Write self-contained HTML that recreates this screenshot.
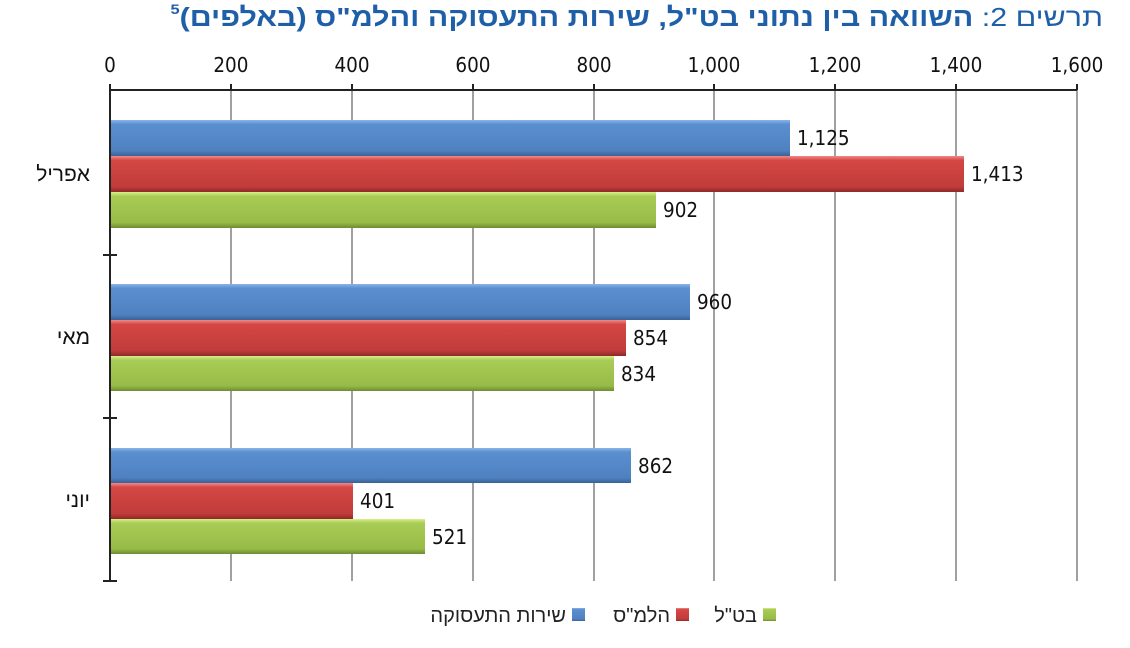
<!DOCTYPE html>
<html><head><meta charset="utf-8"><style>
body{margin:0;background:#fff;width:1130px;height:648px;overflow:hidden;position:relative}
#t{position:absolute;right:27px;top:0;direction:rtl;white-space:nowrap;font-family:'Liberation Sans','Noto Sans CJK JP',sans-serif;font-size:26px;color:#1f5fa8;line-height:34px;transform:scaleX(1.17);transform-origin:right top}
#t b{font-weight:bold}
#t sup{font-size:14px;vertical-align:top;line-height:14px;position:relative;top:2px;font-weight:bold}
svg{position:absolute;left:0;top:0}
</style></head><body>
<svg width="1130" height="648" xmlns="http://www.w3.org/2000/svg" font-family="'Liberation Sans','DejaVu Sans',sans-serif">
<defs>
<linearGradient id="b" x1="0" y1="0" x2="0" y2="1"><stop offset="0" stop-color="#8db4e8"/><stop offset="0.12" stop-color="#5a8fd0"/><stop offset="0.85" stop-color="#4f81c0"/><stop offset="1" stop-color="#3a6296"/></linearGradient>
<linearGradient id="r" x1="0" y1="0" x2="0" y2="1"><stop offset="0" stop-color="#f08a88"/><stop offset="0.12" stop-color="#d44744"/><stop offset="0.85" stop-color="#c03c3a"/><stop offset="1" stop-color="#8e2a28"/></linearGradient>
<linearGradient id="g" x1="0" y1="0" x2="0" y2="1"><stop offset="0" stop-color="#d6f08a"/><stop offset="0.12" stop-color="#a8cc55"/><stop offset="0.85" stop-color="#98bb48"/><stop offset="1" stop-color="#6f8c30"/></linearGradient>
</defs>
<g stroke="#a0a0a0" stroke-width="2">
<line x1="231" y1="90" x2="231" y2="581"/><line x1="352" y1="90" x2="352" y2="581"/><line x1="473" y1="90" x2="473" y2="581"/><line x1="594" y1="90" x2="594" y2="581"/><line x1="714" y1="90" x2="714" y2="581"/><line x1="835" y1="90" x2="835" y2="581"/><line x1="956" y1="90" x2="956" y2="581"/><line x1="1077" y1="90" x2="1077" y2="581"/>
</g>
<g stroke="#222" stroke-width="2">
<line x1="110" y1="90" x2="1077" y2="90"/>
<line x1="110" y1="84" x2="110" y2="582"/>
<line x1="231" y1="84" x2="231" y2="90"/><line x1="352" y1="84" x2="352" y2="90"/><line x1="473" y1="84" x2="473" y2="90"/><line x1="594" y1="84" x2="594" y2="90"/><line x1="714" y1="84" x2="714" y2="90"/><line x1="835" y1="84" x2="835" y2="90"/><line x1="956" y1="84" x2="956" y2="90"/><line x1="1077" y1="84" x2="1077" y2="90"/>
<line x1="103" y1="255" x2="117" y2="255"/><line x1="103" y1="418" x2="117" y2="418"/><line x1="103" y1="581" x2="117" y2="581"/>
</g>
<g font-size="20" fill="#111" text-anchor="middle" font-family="'DejaVu Sans',sans-serif" transform="scale(0.92,1)">
<text x="119.6" y="72">0</text><text x="251" y="72">200</text><text x="382.6" y="72">400</text><text x="514.1" y="72">600</text><text x="645.7" y="72">800</text><text x="776.1" y="72">1,000</text><text x="907.6" y="72">1,200</text><text x="1039.1" y="72">1,400</text><text x="1170.7" y="72">1,600</text>
</g>
<g font-size="21" fill="#111" text-anchor="end" font-family="'Liberation Sans','Noto Sans CJK JP',sans-serif">
<text x="90" y="181">אפריל</text><text x="90" y="344">מאי</text><text x="90" y="507">יוני</text>
</g>
<g>
<rect x="111" y="120" width="679" height="36" fill="url(#b)"/>
<rect x="111" y="156" width="853" height="36" fill="url(#r)"/>
<rect x="111" y="192" width="545" height="36" fill="url(#g)"/>
<rect x="111" y="284" width="579" height="36" fill="url(#b)"/>
<rect x="111" y="320" width="515" height="36" fill="url(#r)"/>
<rect x="111" y="356" width="503" height="35" fill="url(#g)"/>
<rect x="111" y="448" width="520" height="35" fill="url(#b)"/>
<rect x="111" y="483" width="242" height="36" fill="url(#r)"/>
<rect x="111" y="519" width="314" height="35" fill="url(#g)"/>
</g>
<g font-size="20" fill="#111" font-family="'DejaVu Sans',sans-serif" transform="scale(0.92,1)">
<text x="866.3" y="145">1,125</text><text x="1055.4" y="181">1,413</text><text x="720.7" y="217">902</text>
<text x="757.6" y="309">960</text><text x="688" y="345">854</text><text x="675" y="381">834</text>
<text x="693.5" y="473">862</text><text x="391.3" y="508">401</text><text x="469.6" y="544">521</text>
</g>
<g font-size="20" fill="#222" font-family="'Liberation Sans','Noto Sans CJK JP',sans-serif" text-anchor="end">
<rect x="763" y="608" width="13" height="13" fill="url(#g)"/><text x="757" y="622">בט"ל</text>
<rect x="676" y="608" width="13" height="13" fill="url(#r)"/><text x="670" y="622">הלמ"ס</text>
<rect x="572" y="608" width="13" height="13" fill="url(#b)"/><text x="566" y="622">שירות התעסוקה</text>
</g>
</svg>
<div id="t">תרשים 2: <b>השוואה בין נתוני בט"ל, שירות התעסוקה והלמ"ס (באלפים)</b><sup>5</sup></div>
</body></html>
